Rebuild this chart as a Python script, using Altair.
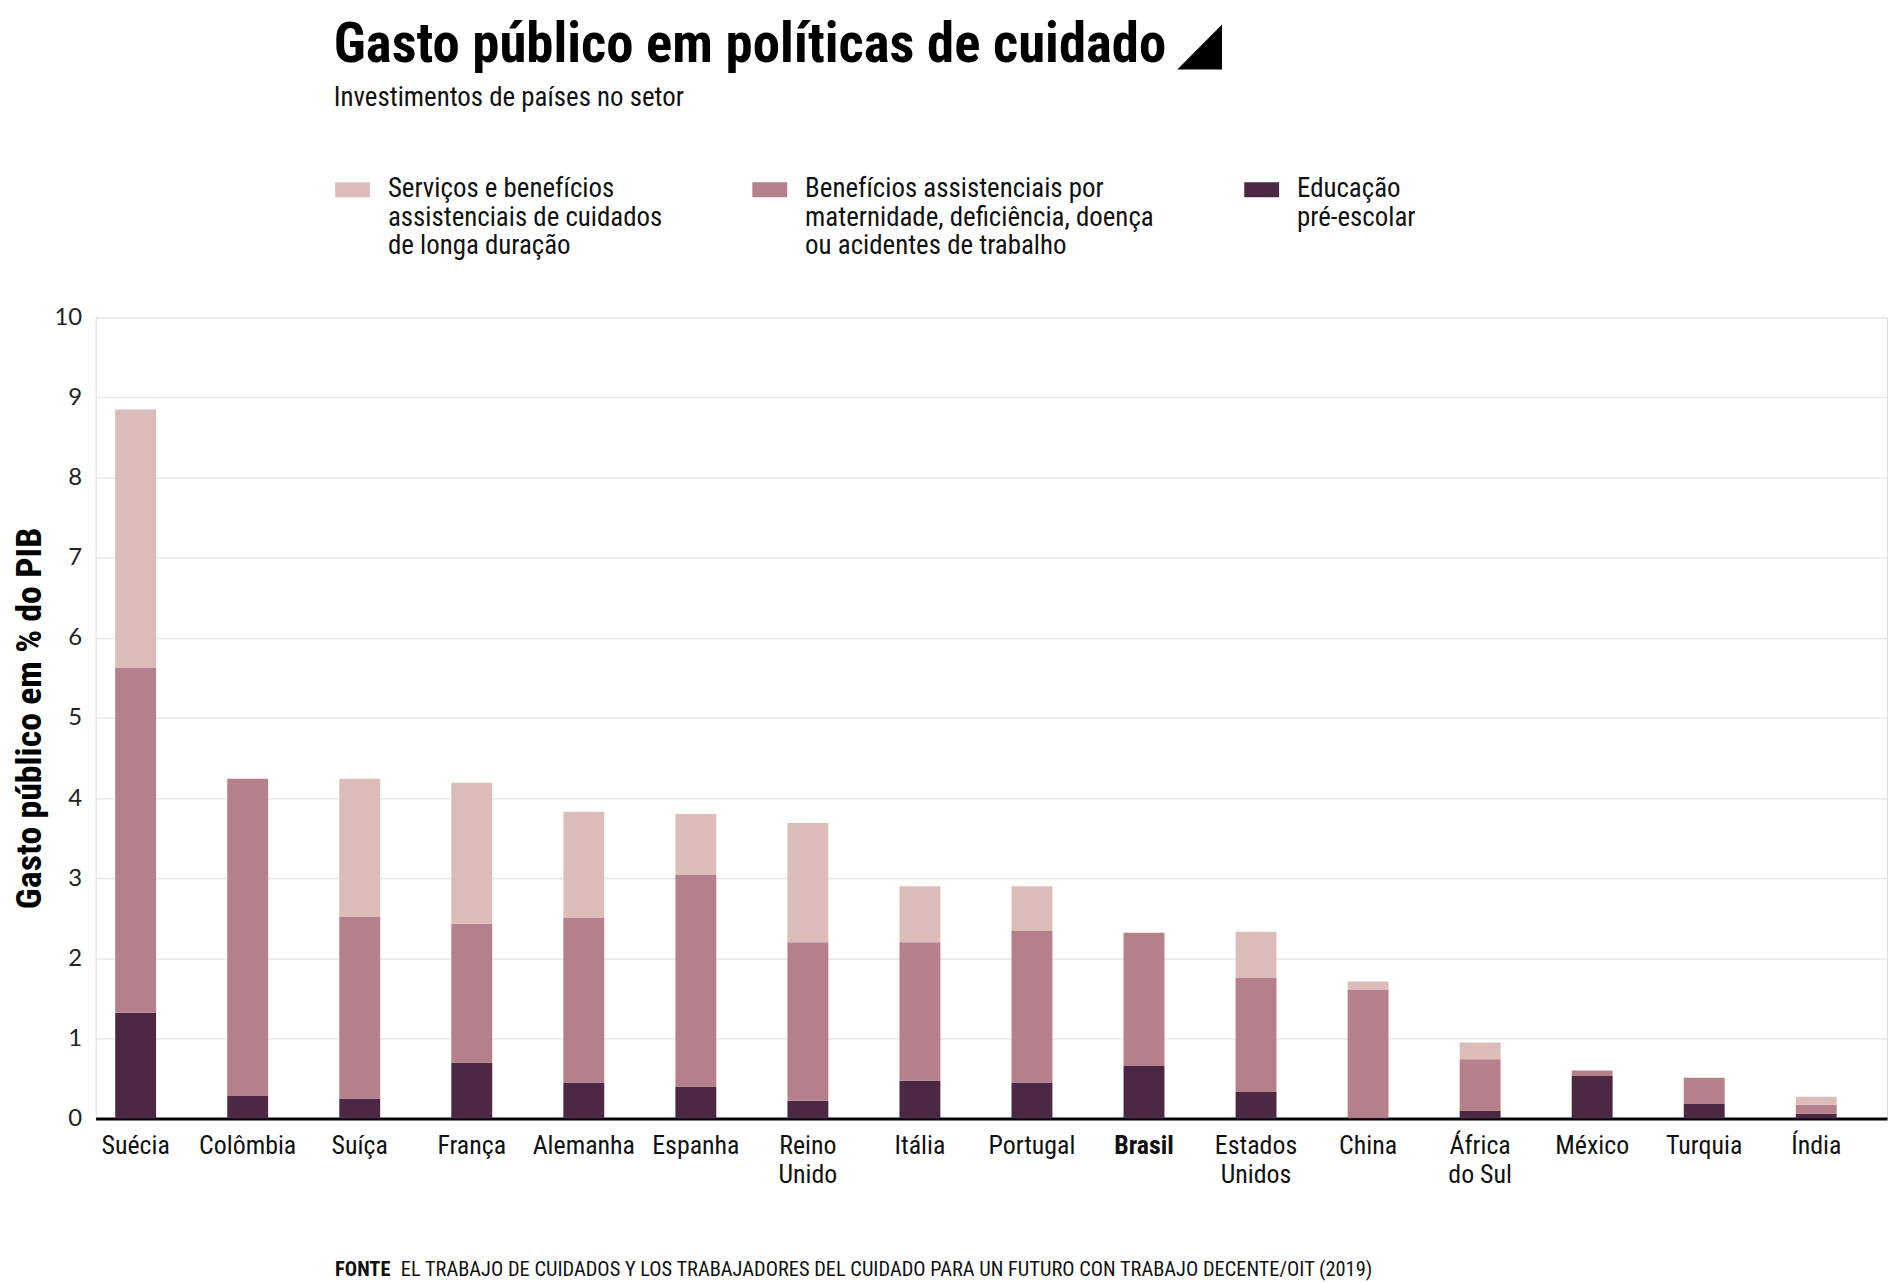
import json
import altair as alt
import pandas as pd

paises = ["Suécia", "Colômbia", "Suíça", "França", "Alemanha", "Espanha", "Reino Unido",
          "Itália", "Portugal", "Brasil", "Estados Unidos", "China", "África do Sul",
          "México", "Turquia", "Índia"]
educacao = [1.32, 0.28, 0.25, 0.70, 0.45, 0.40, 0.22, 0.47, 0.45, 0.66, 0.33, 0.01, 0.10, 0.53, 0.18, 0.06]
beneficios = [4.31, 3.96, 2.27, 1.73, 2.06, 2.64, 1.98, 1.73, 1.89, 1.66, 1.43, 1.60, 0.64, 0.07, 0.33, 0.11]
servicos = [3.22, 0.00, 1.72, 1.76, 1.32, 0.76, 1.49, 0.70, 0.56, 0.00, 0.57, 0.10, 0.21, 0.00, 0.00, 0.10]

series = [
    "Serviços e benefícios assistenciais de cuidados de longa duração",
    "Benefícios assistenciais por maternidade, deficiência, doença ou acidentes de trabalho",
    "Educação pré-escolar",
]
legend_lines = [
    ["Serviços e benefícios", "assistenciais de cuidados", "de longa duração"],
    ["Benefícios assistenciais por", "maternidade, deficiência, doença", "ou acidentes de trabalho"],
    ["Educação", "pré-escolar", " "],
]
cores = ["#dcbcb8", "#b3808b", "#4d2844"]
y_ticks = [0, 1, 2, 3, 4, 5, 6, 7, 8, 9, 10]

titulo = "Gasto público em políticas de cuidado ◢"
subtitulo = "Investimentos de países no setor"
eixo_y = "Gasto público em % do PIB"
fonte_rotulo = "FONTE"
fonte_texto = "EL TRABAJO DE CUIDADOS Y LOS TRABAJADORES DEL CUIDADO PARA UN FUTURO CON TRABAJO DECENTE/OIT (2019)"

FONT = "Roboto Condensed, Liberation Sans Narrow, Roboto, sans-serif"

rows = []
for i, p in enumerate(paises):
    for s, vals, ordem in ((series[2], educacao, 0), (series[1], beneficios, 1), (series[0], servicos, 2)):
        if vals[i] > 0:
            rows.append({"pais": p, "serie": s, "valor": vals[i], "ordem": ordem})
df = pd.DataFrame(rows)

legend_expr = (
    f"datum.label == {json.dumps(series[0], ensure_ascii=False)} ? {json.dumps(legend_lines[0], ensure_ascii=False)} : "
    f"datum.label == {json.dumps(series[1], ensure_ascii=False)} ? {json.dumps(legend_lines[1], ensure_ascii=False)} : "
    f"{json.dumps(legend_lines[2], ensure_ascii=False)}"
)

W, H = 1799, 804.5

bars = alt.Chart(df).mark_bar().encode(
    x=alt.X("pais:N", sort=paises,
            scale=alt.Scale(paddingInner=0.635, paddingOuter=0.312, align=0.28),
            axis=alt.Axis(title=None, labelAngle=0, labelFont=FONT, labelFontSize=26,
                          labelColor="#111", labelPadding=14, labelLineHeight=29,
                          labelBaseline="top",
                          labelExpr="datum.value == 'África do Sul' ? ['África', 'do Sul'] : split(datum.value, ' ')",
                          labelFontWeight={"condition": {"test": "datum.value == 'Brasil'", "value": "bold"}, "value": "normal"},
                          ticks=False, domain=True, domainColor="#000", domainWidth=3)),
    y=alt.Y("valor:Q", stack="zero",
            scale=alt.Scale(domain=[0, 10], nice=False),
            axis=alt.Axis(title=eixo_y, values=y_ticks, format="d", labelFont="Lato",
                          labelFontSize=24, labelColor="#222", labelPadding=14,
                          titleFont=FONT, titleFontSize=36, titleFontWeight="bold",
                          titleColor="#000", titlePadding=6,
                          ticks=False, domain=False, grid=True, gridColor="#e6e6e6",
                          gridWidth=1.3)),
    color=alt.Color("serie:N", sort=series,
                    scale=alt.Scale(domain=series, range=cores),
                    legend=alt.Legend(title=None, orient="none", legendX=240.5, legendY=-160,
                                      direction="horizontal", columns=3, columnPadding=90,
                                      symbolType="M-1,0.37L1,0.37L1,1.23L-1,1.23Z",
                                      symbolSize=1225, symbolStrokeWidth=0, symbolOpacity=1,
                                      labelFont=FONT, labelFontSize=27, labelColor="#111",
                                      labelBaseline="top",
                                      labelOffset=18, labelLimit=600,
                                      labelExpr=legend_expr)),
    order=alt.Order("ordem:Q", sort="ascending"),
)

footer_df = pd.DataFrame({"rotulo": [fonte_rotulo], "texto": [fonte_texto]})
foot1 = alt.Chart(footer_df).mark_text(
    align="left", baseline="middle", font=FONT, fontSize=20.5, fontWeight="bold", color="#111"
).encode(text="rotulo:N", x=alt.value(240.5), y=alt.value(H + 152))
foot2 = alt.Chart(footer_df).mark_text(
    align="left", baseline="middle", font=FONT, fontSize=20.5, color="#111"
).encode(text="texto:N", x=alt.value(306.5), y=alt.value(H + 152))

chart = alt.layer(bars, foot1, foot2).properties(
    width=W, height=H,
    padding={"left": 3, "top": 8, "right": 5, "bottom": 0},
    title=alt.TitleParams(text=titulo, subtitle=subtitulo, anchor="start", dx=324,
                          font=FONT, fontSize=55, fontWeight="bold", color="#000",
                          subtitleFont=FONT, subtitleFontSize=27, subtitleColor="#111",
                          subtitlePadding=11, offset=46),
).configure_view(stroke=None).configure(background="white")

chart.save("out.html", embed_options={"renderer": "svg", "actions": False})
